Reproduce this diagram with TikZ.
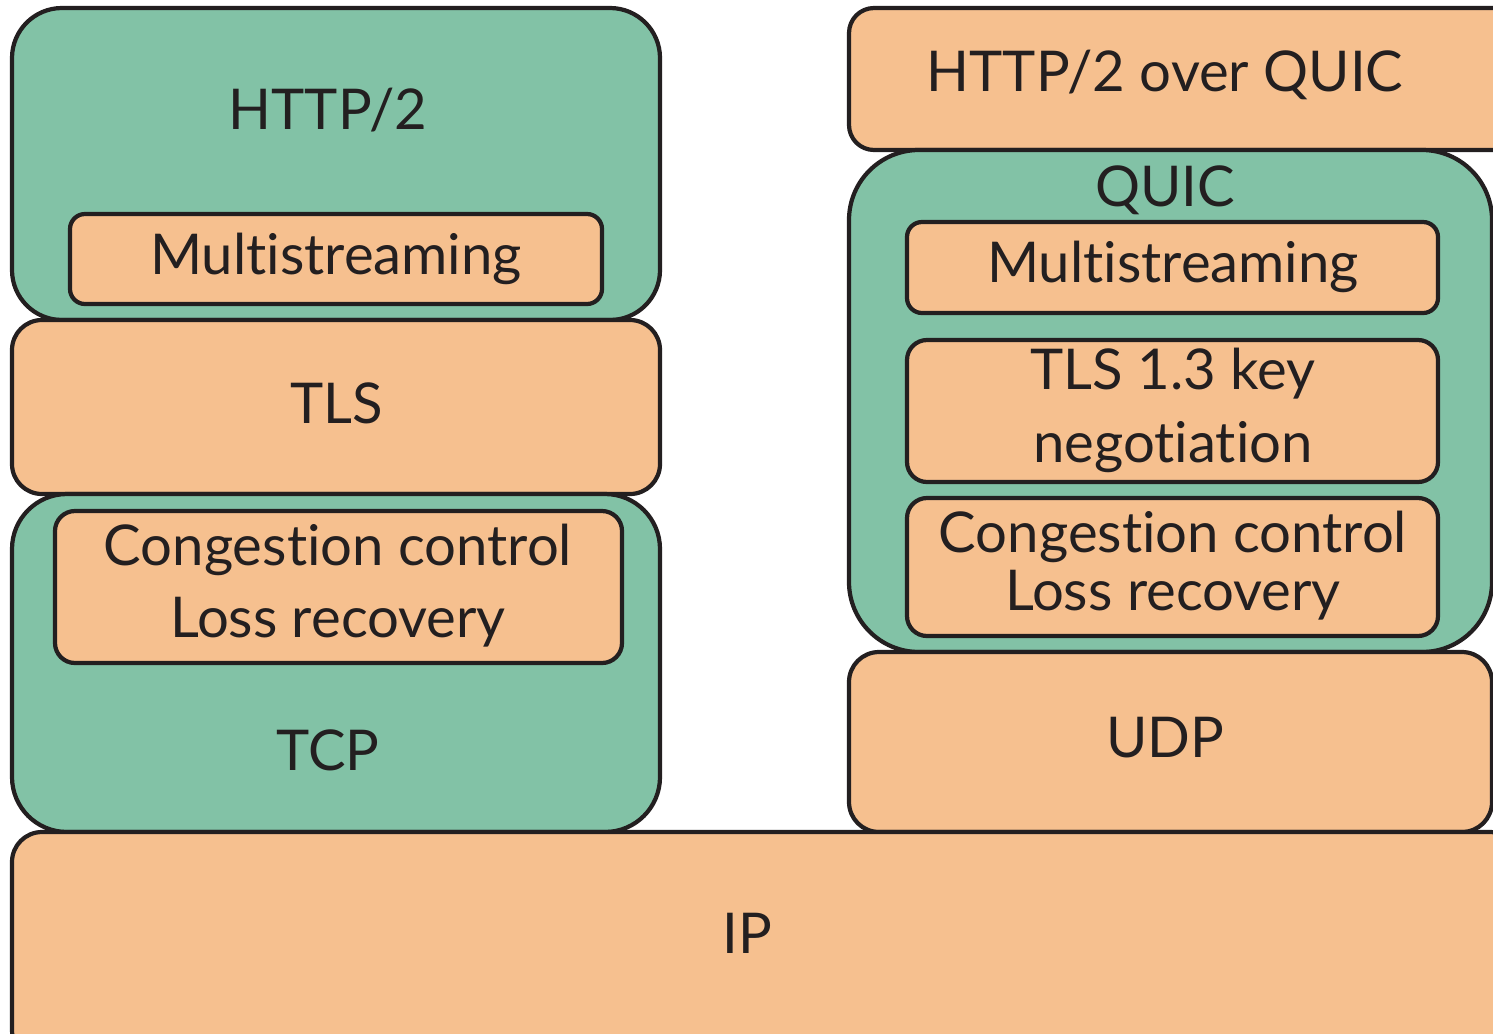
\documentclass[tikz,border=0pt]{standalone}
\usepackage{fontspec}
\setmainfont{Lato}[Ligatures={NoCommon}]
\definecolor{layergreen}{HTML}{82C2A6}
\definecolor{layerorange}{HTML}{F6C08F}
\definecolor{layerline}{HTML}{231F20}
\tikzset{
  greenlayer/.style={draw=layerline, fill=layergreen, line width=1.2pt},
  orangelayer/.style={draw=layerline, fill=layerorange, line width=1.2pt},
  lbl/.style={text=layerline, font=\fontsize{16}{16.5}\selectfont, inner sep=0pt, align=center}
}
\begin{document}
\begin{tikzpicture}
    \useasboundingbox (0,0) rectangle (14.93,-10.33);
    \clip (0,0) rectangle (14.93,-10.33);
    % left stack
    \draw[greenlayer, rounded corners=0.5cm] (0.12,-0.08) rectangle (6.60,-3.20);
    \draw[orangelayer, rounded corners=0.15cm] (0.70,-2.14) rectangle (6.02,-3.04);
    \draw[orangelayer, rounded corners=0.3cm] (0.12,-3.20) rectangle (6.60,-4.94);
    \draw[greenlayer, rounded corners=0.55cm] (0.12,-4.94) rectangle (6.60,-8.32);
    \draw[orangelayer, rounded corners=0.2cm] (0.55,-5.11) rectangle (6.22,-6.63);
    %
    \node[lbl] (http2) at (3.28,-1.10) {HTTP/2};
    \node[lbl] (multileft) at (3.36,-2.59) {Multistreaming};
    \node[lbl] (tls) at (3.37,-4.03) {TLS};
    \node[lbl] (ccleft) at (3.38,-5.86) {Congestion control\\[4pt]Loss recovery};
    \node[lbl] (tcp) at (3.28,-7.50) {TCP};
    % right stack
    \draw[orangelayer, rounded corners=0.25cm] (8.49,-0.08) rectangle (15.20,-1.50);
    \draw[greenlayer, rounded corners=0.7cm] (8.49,-1.50) rectangle (14.92,-6.52);
    \draw[orangelayer, rounded corners=0.15cm] (9.07,-2.22) rectangle (14.38,-3.13);
    \draw[orangelayer, rounded corners=0.2cm] (9.07,-3.40) rectangle (14.38,-4.82);
    \draw[orangelayer, rounded corners=0.2cm] (9.07,-4.98) rectangle (14.38,-6.36);
    \draw[orangelayer, rounded corners=0.3cm] (8.49,-6.52) rectangle (14.92,-8.32);
    %
    \node[lbl] (h2quic) at (11.65,-0.75) {HTTP/2 over QUIC};
    \node[lbl] (quic) at (11.65,-1.90) {QUIC};
    \node[lbl] (multiright) at (11.73,-2.67) {Multistreaming};
    \node[lbl] (tlskey) at (11.73,-4.10) {TLS 1.3 key\\[4.3pt]negotiation};
    \node[lbl] (ccright) at (11.73,-5.66) {Congestion control\\Loss recovery};
    \node[lbl] (udp) at (11.65,-7.38) {UDP};
    % shared bottom layer
    \draw[orangelayer, rounded corners=0.3cm] (0.12,-8.32) rectangle (15.20,-10.60);
    \node[lbl] (ip) at (7.47,-9.33) {IP};
\end{tikzpicture}
\end{document}
